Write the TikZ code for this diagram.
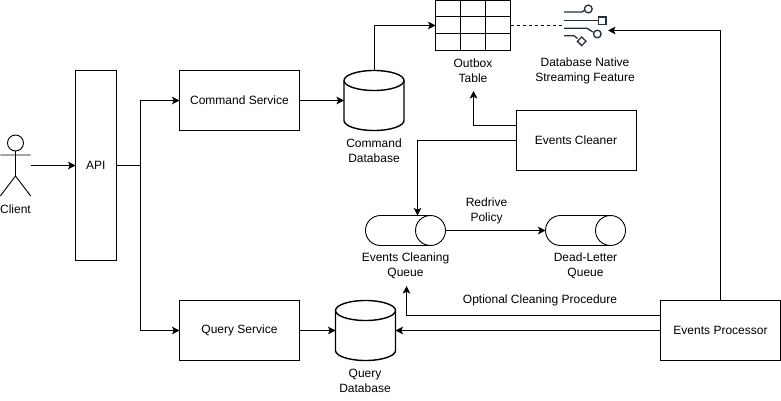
\documentclass[tikz,border=0pt]{standalone}
\usepackage{fontspec}
\setmainfont{Liberation Sans}
\usetikzlibrary{arrows.meta,calc}
\tikzset{
  every node/.style={font=\fontsize{12}{15}\selectfont, align=center, inner sep=0pt, outer sep=0pt},
  box/.style={draw=black, line width=1pt, anchor=north west},
  ghost/.style={anchor=north west},
  lbl/.style={text=black},
  conn/.style={draw=black, line width=1pt, -{Stealth[length=7.5pt,width=7.5pt,inset=1.8pt]}},
  plain/.style={draw=black, line width=1pt},
  thick shape/.style={draw=black, line width=1.4pt},
  thin shape/.style={draw=black, line width=0.9pt},
  icon/.style={draw=iconblue, line width=1.3pt}
}
\definecolor{iconblue}{HTML}{232F3E}
\newcommand{\dbdraw}[1]{%
  \begin{scope}[shift={(#1.center)}]
    \path[thick shape] (-30,-20) -- (-30,20) arc[x radius=30,y radius=10,start angle=180,end angle=0] -- (30,-20) arc[x radius=30,y radius=10,start angle=0,end angle=-180] -- cycle;
    \path[thick shape] (-30,-20) arc[x radius=30,y radius=10,start angle=180,end angle=0];
  \end{scope}}
\newcommand{\qdraw}[1]{%
  \begin{scope}[shift={(#1.center)}]
    \path[thin shape] (25,-15) -- (-25,-15) arc[radius=15,start angle=-90,end angle=-270] -- (25,15);
    \path[thin shape] (25,0) circle[radius=15];
  \end{scope}}
\begin{document}
\begin{tikzpicture}[x=1pt,y=-1pt]
\useasboundingbox (0,0) rectangle (781,401);
% actor
\node[ghost, minimum width=31pt, minimum height=62pt] (client) at (0,134) {};
\draw[thin shape] (15.5,143) circle[radius=8];
\draw[thin shape] (15.5,151) -- (15.5,176) (0.3,155) -- (30.7,155) (15.5,176) -- (0.3,196) (15.5,176) -- (30.7,196);
\node[lbl] (clientl) at (15.5,208.8) {Client};
% boxes
\node[box, minimum width=40.5pt, minimum height=190pt] (api) at (75.5,70.5) {API};
\node[box, minimum width=120pt, minimum height=60pt] (cmd) at (179.5,70.5) {Command Service};
\node[box, minimum width=120pt, minimum height=60pt] (qry) at (179.5,300.5) {Query Service};
\node[box, minimum width=120pt, minimum height=60pt] (clean) at (516,110.5) {Events Cleaner};
\node[box, minimum width=120pt, minimum height=60pt] (proc) at (660.5,300.5) {Events Processor};
% databases
\node[ghost, minimum width=60pt, minimum height=60pt] (cdb) at (344,70.5) {};
\dbdraw{cdb}
\node[ghost, minimum width=60pt, minimum height=60pt] (qdb) at (335.5,300.5) {};
\dbdraw{qdb}
\node[lbl] at (374,150.5) {Command\\Database};
\node[lbl] at (365,380.5) {Query\\Database};
% queues
\node[ghost, minimum width=80pt, minimum height=30pt] (ecq) at (365.5,215.5) {};
\qdraw{ecq}
\node[ghost, minimum width=80pt, minimum height=30pt] (dlq) at (545.5,215.5) {};
\qdraw{dlq}
\node[lbl] at (405.5,265.5) {Events Cleaning\\Queue};
\node[lbl] at (585.5,265.5) {Dead-Letter\\Queue};
\node[lbl] at (486.5,210.7) {Redrive\\Policy};
\node[lbl] at (540,300) {Optional Cleaning Procedure};
% outbox
\node[box, minimum width=75pt, minimum height=50pt] (outbox) at (435.5,0.5) {};
\draw[plain] (460.5,0.5) -- (460.5,50.5) (485.5,0.5) -- (485.5,50.5) (435.5,17) -- (510.5,17) (435.5,33.5) -- (510.5,33.5);
\node[lbl] at (473,70.5) {Outbox\\Table};
% icon
\node[ghost, minimum width=44pt, minimum height=44pt] (stream) at (564,4) {};
\draw[icon] (564,12) -- (582,12) -- (584.5,10.5);
\draw[icon] (588.3,9) circle[radius=3.9];
\draw[icon] (564,20.7) -- (598,20.7);
\draw[icon] (598.3,17) rectangle (606,24.5);
\draw[icon] (564,28.3) -- (587,28.3) -- (593,32);
\draw[icon] (597.3,34) circle[radius=3.8];
\draw[icon] (564,35.7) -- (574,35.7) -- (577.5,38.5);
\draw[icon] (581.7,37) -- (586,41.3) -- (581.7,45.6) -- (577.4,41.3) -- cycle;
\node[lbl] at (585,70.5) {Database Native\\Streaming Feature};
% connectors
\coordinate (split) at (140.5,165.5);
\draw[conn] (30.5,165.5) -- (api.west |- 0,165.5);
\draw[plain] (api.east |- split) -- (split);
\draw[conn] (split) |- (cmd.west);
\draw[conn] (split) |- (qry.west);
\draw[conn] (cmd.east) -- (cdb.west);
\draw[conn] (qry.east) -- (qdb.west);
\draw[conn] (cdb.north) |- (outbox.west);
\draw[plain, dashed, dash pattern=on 3pt off 3pt] (outbox.east) -- (stream.west |- outbox.east);
\draw[conn] (proc.north) |- (608,30.5);
\draw[conn] (proc.west) -- (qdb.east);
\coordinate (optend) at (406.5,286);
\draw[conn] ($(proc.west)+(0,-15)$) -| (optend);
\coordinate (outlbl) at (473.5,91);
\draw[conn] ($(clean.west)+(0,-15)$) -| (outlbl);
\draw[conn] (clean.west) -| (ecq.north -| 417.5,0);
\draw[conn] (ecq.east) -- (dlq.west);
\end{tikzpicture}
\end{document}
